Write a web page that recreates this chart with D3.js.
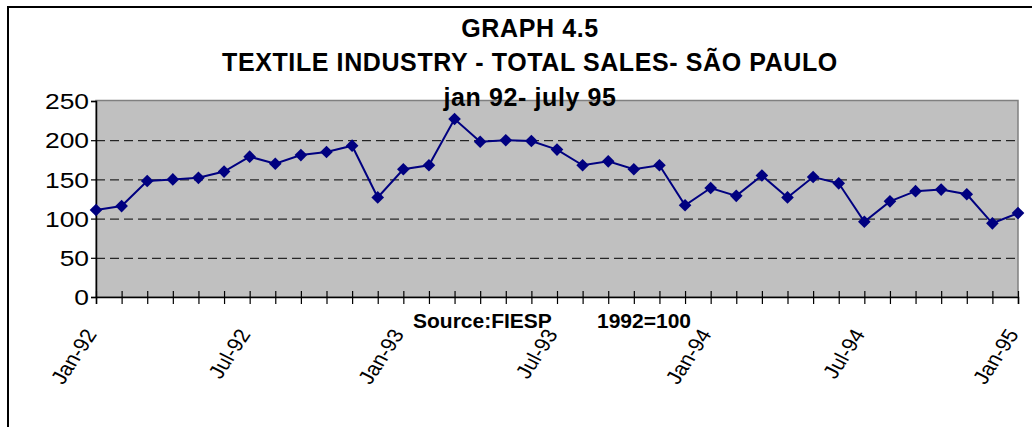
<!DOCTYPE html>
<html>
<head>
<meta charset="utf-8">
<script src="https://cdn.jsdelivr.net/npm/d3@7"></script>
<style>
  body { margin: 0; background: #fff; }
  text { font-family: "Liberation Sans", Arial, sans-serif; }
</style>
</head>
<body>
<div id="chart"></div>
<script>
// Monthly categories, Jan-92 .. Jan-95
const months = [
    "Jan-92", "Feb-92", "Mar-92", "Apr-92", "May-92", "Jun-92", "Jul-92", "Aug-92", "Sep-92", "Oct-92", "Nov-92", "Dec-92",
    "Jan-93", "Feb-93", "Mar-93", "Apr-93", "May-93", "Jun-93", "Jul-93", "Aug-93", "Sep-93", "Oct-93", "Nov-93", "Dec-93",
    "Jan-94", "Feb-94", "Mar-94", "Apr-94", "May-94", "Jun-94", "Jul-94", "Aug-94", "Sep-94", "Oct-94", "Nov-94", "Dec-94",
    "Jan-95"
];

// Total sales index (1992=100)
const sales = [
    111, 116, 148, 150, 152, 160, 179, 170, 181, 185, 193, 127,
    163, 168, 227, 198, 200, 199, 188, 168, 173, 163, 168, 117,
    139, 129, 155, 127, 153, 145, 96, 122, 135, 137, 131, 94,
    107
];

const xTickLabels = ["Jan-92", "Jul-92", "Jan-93", "Jul-93", "Jan-94", "Jul-94", "Jan-95"];
const yTicks = [0, 50, 100, 150, 200, 250];
const gridTicks = [50, 100, 150, 200];

const titleLines = ["GRAPH 4.5", "TEXTILE INDUSTRY - TOTAL SALES- SÃO PAULO", "jan 92- july 95"];

const W = 1032, H = 427;
const plot = { left: 96, right: 1018, top: 100.5, bottom: 297 };

const svg = d3.select("#chart")
    .append("svg")
    .attr("width", W)
    .attr("height", H);

// outer chart frame (runs off the right and bottom edges)
svg.append("rect")
    .attr("x", 8).attr("y", 7)
    .attr("width", 1100).attr("height", 500)
    .attr("fill", "#fff")
    .attr("stroke", "#000")
    .attr("stroke-width", 2);

// scales
const x = d3.scalePoint().domain(months).range([plot.left, plot.right]);
const y = d3.scaleLinear().domain([0, 250]).range([plot.bottom, 101]);

// plot area
svg.append("rect")
    .attr("x", plot.left).attr("y", plot.top)
    .attr("width", plot.right - plot.left)
    .attr("height", plot.bottom - plot.top)
    .attr("fill", "#c0c0c0")
    .attr("stroke", "#808080")
    .attr("stroke-width", 1.5);

// dashed gridlines
svg.append("g")
    .attr("transform", `translate(${plot.left},0)`)
    .call(d3.axisLeft(y).tickValues(gridTicks).tickSize(-(plot.right - plot.left)).tickFormat(""))
    .call(g => g.select(".domain").remove())
    .call(g => g.selectAll("line")
        .attr("stroke", "#000")
        .attr("stroke-width", 1)
        .attr("stroke-dasharray", "9,5"));

// y axis
svg.append("g")
    .attr("transform", `translate(${plot.left},0)`)
    .call(d3.axisLeft(y).tickValues(yTicks).tickSize(5).tickPadding(7))
    .call(g => g.select(".domain").attr("stroke", "#000").attr("stroke-width", 1.5))
    .call(g => g.selectAll("line").attr("stroke", "#000").attr("stroke-width", 1.2))
    .call(g => g.selectAll("text")
        .attr("font-size", 22)
        .attr("fill", "#000")
        .attr("x", 0).attr("dy", null)
        .attr("dominant-baseline", "central")
        .attr("transform", "translate(-7,0) scale(1.2,1)")
        .attr("text-anchor", "end"));

// x axis
svg.append("g")
    .attr("transform", `translate(0,${plot.bottom})`)
    .call(d3.axisBottom(x).tickSize(7).tickFormat(d => xTickLabels.includes(d) ? d : ""))
    .call(g => g.select(".domain").attr("stroke", "#000").attr("stroke-width", 1.5))
    .call(g => g.selectAll("line").attr("y1", -6).attr("stroke", "#000").attr("stroke-width", 1.2))
    .call(g => g.selectAll("text")
        .attr("font-size", 19.5)
        .attr("fill", "#000")
        .attr("x", 0).attr("y", 0).attr("dy", null)
        .attr("text-anchor", "end")
        .attr("transform", "translate(1,37) scale(1.15,1) rotate(-60)"));

// series line
const line = d3.line()
    .x((d, i) => x(months[i]))
    .y(d => y(d));

svg.append("path")
    .datum(sales)
    .attr("fill", "none")
    .attr("stroke", "#000080")
    .attr("stroke-width", 2)
    .attr("d", line);

// diamond markers
svg.append("g")
    .selectAll("path")
    .data(sales)
    .join("path")
    .attr("d", d3.symbol(d3.symbolSquare, 80))
    .attr("transform", (d, i) => `translate(${x(months[i])},${y(d)}) rotate(45)`)
    .attr("fill", "#000080");

// title
svg.append("g")
    .selectAll("text")
    .data(titleLines)
    .join("text")
    .attr("x", 530)
    .attr("y", (d, i) => [37, 71, 106][i])
    .attr("text-anchor", "middle")
    .attr("font-size", 25)
    .attr("font-weight", "bold")
    .attr("letter-spacing", 0.6)
    .text(d => d);

// source note
svg.append("text")
    .attr("x", 413).attr("y", 328)
    .attr("font-size", 21)
    .attr("font-weight", "bold")
    .text("Source:FIESP");

svg.append("text")
    .attr("x", 597).attr("y", 328)
    .attr("font-size", 21)
    .attr("font-weight", "bold")
    .text("1992=100");
</script>
</body>
</html>
